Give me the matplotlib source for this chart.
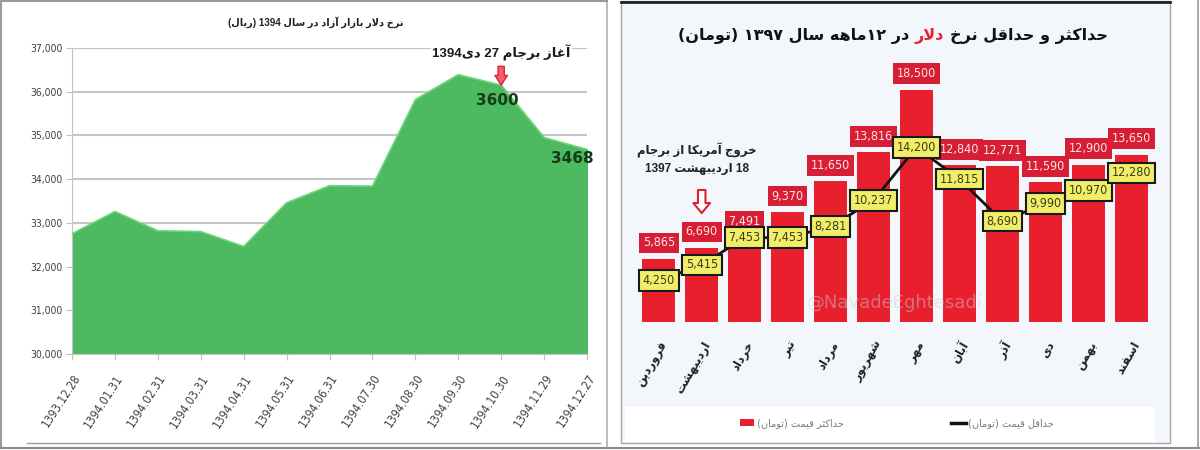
import re
import numpy as np
import matplotlib
matplotlib.use('Agg')
from matplotlib import pyplot as plt
from matplotlib import font_manager
from matplotlib.patches import Rectangle, Patch
from matplotlib.lines import Line2D
from matplotlib.offsetbox import TextArea, HPacker, AnnotationBbox

#Left chart data (rial)
dates_1394 = ['1393.12.28', '1394.01.31', '1394.02.31', '1394.03.31', '1394.04.31',
              '1394.05.31', '1394.06.31', '1394.07.30', '1394.08.30', '1394.09.30',
              '1394.10.30', '1394.11.29', '1394.12.27']
rate_1394 = [32750, 33260, 32820, 32800, 32460, 33460, 33850, 33840, 35820, 36390, 36150, 34950, 34680]

#Right chart data (toman)
months_1397 = ['فروردین', 'اردیبهشت', 'خرداد', 'تیر', 'مرداد', 'شهریور',
               'مهر', 'آبان', 'آذر', 'دی', 'بهمن', 'اسفند']
max_1397 = [5865, 6690, 7491, 9370, 11650, 13816, 18500, 12840, 12771, 11590, 12900, 13650]
min_1397 = [4250, 5415, 7453, 7453, 8281, 10237, 14200, 11815, 8690, 9990, 10970, 12280]

#Persian shaping (matplotlib has no text shaping, so use presentation forms)
dual = {'ب': 0xFE8F, 'ت': 0xFE95, 'ث': 0xFE99, 'ج': 0xFE9D, 'ح': 0xFEA1, 'خ': 0xFEA5,
        'س': 0xFEB1, 'ش': 0xFEB5, 'غ': 0xFECD, 'ف': 0xFED1, 'ق': 0xFED5, 'ک': 0xFB8E,
        'ل': 0xFEDD, 'م': 0xFEE1, 'ن': 0xFEE5, 'ه': 0xFEE9, 'ی': 0xFBFC}
right = {'ا': 0xFE8D, 'آ': 0xFE81, 'د': 0xFEA9, 'ذ': 0xFEAB, 'ر': 0xFEAD, 'ز': 0xFEAF, 'و': 0xFEED}
lam_alef = {'ا': 0xFEFB, 'آ': 0xFEF5}
mirror = str.maketrans('()', ')(')

def shape(s):
     out = []
     i = 0
     prev = False
     while i < len(s):
          c = s[i]
          nxt = s[i+1] if i + 1 < len(s) else ''
          if c == 'ل' and nxt in lam_alef:
               out.append(chr(lam_alef[nxt] + (1 if prev else 0)))
               prev = False
               i += 2
               continue
          joins_next = nxt in dual or nxt in right
          if c in dual:
               if prev and joins_next: k = 3
               elif prev: k = 1
               elif joins_next: k = 2
               else: k = 0
               out.append(chr(dual[c] + k))
               prev = True
          elif c in right:
               out.append(chr(right[c] + (1 if prev else 0)))
               prev = False
          else:
               out.append(c)
               prev = False
          i += 1
     return ''.join(out)

def rtl(s):
     parts = re.findall(r'[0-9\u06F0-\u06F9]+(?:[.,][0-9\u06F0-\u06F9]+)*|[^0-9\u06F0-\u06F9]+', shape(s))
     res = []
     for p in reversed(parts):
          if p[0].isdigit():
               res.append(p)
          else:
               res.append(p[::-1].translate(mirror))
     return ''.join(res)

#Basic Settings
cond = [f.fname for f in font_manager.fontManager.ttflist
        if ('Narrow' in f.name or 'Condensed' in f.fname) and 'Bold' not in f.fname
        and 'Oblique' not in f.fname and 'Italic' not in f.fname and 'Mono' not in f.fname]

def fp(size):
     if cond:
          return font_manager.FontProperties(fname=cond[0], size=size)
     return font_manager.FontProperties(family='Liberation Sans', size=size * 0.93)

plt.rcParams['font.family'] = ['DejaVu Sans']
mixed = ['Liberation Sans', 'DejaVu Sans']

W, H = 1200, 450
fig = plt.figure(figsize=(12, 4.5), dpi=100)

def fx(x):
     return x / W
def fy(y):
     return 1 - y / H

#Panel frames
fig.patches.append(Rectangle((fx(621), fy(443)), fx(1170 - 621), (442) / H, transform=fig.transFigure,
                             fc='#f3f6fa', ec='#a8a8a8', lw=1, zorder=-2))
fig.patches.append(Rectangle((fx(625), fy(442)), fx(1155 - 625), 35 / H, transform=fig.transFigure,
                             fc='white', ec='none', zorder=-1))
for xs, ys, col, lw in [([1, 1], [0, 448], '#9a9a9a', 1.5),
                         ([607, 607], [0, 448], '#b0b0b0', 1.2),
                         ([1, 607], [1, 1], '#9a9a9a', 1.5),
                         ([27, 600], [443, 443], '#9a9a9a', 1),
                         ([0, 1200], [448, 448], '#8a8a8a', 1.5),
                         ([1198, 1198], [0, 448], '#9a9a9a', 1.2),
                         ([621, 1170], [1.5, 1.5], '#222222', 2)]:
     fig.add_artist(Line2D([fx(v) for v in xs], [fy(v) for v in ys], color=col, lw=lw, zorder=-1))

#Left chart
ax1 = fig.add_axes([fx(72), fy(354), fx(587 - 72), (354 - 48) / H])
x1 = np.arange(len(rate_1394))
ax1.fill_between(x1, rate_1394, 30000, color='#4db960', zorder=2)
ax1.plot(x1, rate_1394, color='#6fd67d', lw=1.2, zorder=3)
ax1.set_xlim(0, len(rate_1394) - 1)
ax1.set_ylim(30000, 37000)
ax1.set_yticks(range(30000, 37001, 1000))
ax1.set_yticklabels([f'{v:,}' for v in range(30000, 37001, 1000)], color='#404040', fontproperties=fp(7.5))
ax1.set_xticks(x1)
ax1.set_xticklabels(dates_1394, rotation=57, ha='right', rotation_mode='anchor', color='#404040',
                    fontproperties=fp(8.5))
ax1.tick_params(axis='x', length=4, color='#bfbfbf', pad=9)
ax1.tick_params(axis='y', length=4, color='#bfbfbf', pad=3)
ax1.grid(axis='y', color='#c4c4c4', lw=1.5, zorder=1)
ax1.set_axisbelow(True)
for s in ['top', 'right']:
     ax1.spines[s].set_visible(False)
for s in ['left', 'bottom']:
     ax1.spines[s].set_color('#c4c4c4')

fig.text(fx(316), fy(22), rtl('نرخ دلار بازار آزاد در سال 1394 (ریال)'), ha='center', va='center',
         fontsize=7, fontweight='bold', color='#222222', family=mixed)
ax1.text(10.0, 36880, rtl('آغاز برجام 27 دی1394'), ha='center', va='center', fontsize=9.5,
         fontweight='bold', color='#1a1a1a', zorder=5, clip_on=False, family=mixed,
         bbox=dict(fc='white', ec='none', pad=1))
ax1.annotate('', xy=(10, rate_1394[10]), xytext=(10, 36580),
             arrowprops=dict(arrowstyle='simple,head_length=0.7,head_width=0.9,tail_width=0.45',
                             fc='#f25c6c', ec='#e0202f', lw=1, mutation_scale=10, shrinkA=0, shrinkB=0),
             zorder=6)
ax1.text(9.9, 35790, '3600', ha='center', va='center', fontsize=11, fontweight='bold', color='#123d17', zorder=5)
ax1.text(11.65, 34480, '3468', ha='center', va='center', fontsize=11, fontweight='bold', color='#123d17', zorder=5)

#Right chart
ax2 = fig.add_axes([fx(633), fy(322), fx(524), 262 / H])
x2 = np.arange(len(months_1397))
ax2.bar(x2, max_1397, width=0.77, color='#e8202e', zorder=2)
ax2.plot(x2, min_1397, color='#111111', lw=2, zorder=3)
ax2.set_xlim(-0.6, 11.6)
ax2.set_ylim(1160, 20712)
ax2.patch.set_visible(False)
for s in ax2.spines.values():
     s.set_visible(False)
ax2.set_yticks([])
ax2.set_xticks(x2)
ax2.set_xticklabels([rtl(m) for m in months_1397], rotation=60, ha='right', rotation_mode='anchor',
                    fontsize=8.5, fontweight='bold', color='#222222')
ax2.tick_params(axis='x', length=0, pad=12)

for i, v in enumerate(max_1397):
     ax2.annotate(f'{v:,}', xy=(i, v), xytext=(0, 11.5), textcoords='offset points', ha='center', va='center',
                  fontproperties=fp(9), color='#fbe6e8', zorder=4,
                  bbox=dict(boxstyle='square,pad=0.3', fc='#d81e34', ec='none'))
for i, v in enumerate(min_1397):
     ax2.text(i, v, f'{v:,}', ha='center', va='center', fontproperties=fp(9), color='#3b3a16', zorder=5,
              bbox=dict(boxstyle='square,pad=0.3', fc='#f1ee6a', ec='#1a1a1a', lw=1.5))

fig.text(fx(697), fy(159), rtl('خروج آمریکا از برجام') + '\n' + rtl('18 اردیبهشت 1397'), ha='center', va='center',
         fontsize=8.5, fontweight='bold', color='#222222', linespacing=1.6, family=mixed)
ax2.annotate('', xy=(1, 9290), xytext=(1, 11010),
             arrowprops=dict(arrowstyle='simple,head_length=0.6,head_width=1.0,tail_width=0.45',
                             fc='white', ec='#e0202f', lw=1.5, mutation_scale=12, shrinkA=0, shrinkB=0),
             zorder=6)
fig.text(fx(895), fy(303), '@NavadeEghtesadi', ha='center', va='center', fontsize=13,
         color='#c9cfdb', alpha=0.45, zorder=7)

#Right title with red word
tprops = dict(fontsize=11.5, fontweight='bold', color='#111111')
title_box = HPacker(children=[TextArea(rtl('در ۱۲ماهه سال ۱۳۹۷ (تومان)'), textprops=tprops),
                              TextArea(rtl('دلار'), textprops=dict(tprops, color='#e8202e')),
                              TextArea(rtl('حداکثر و حداقل نرخ'), textprops=tprops)],
                    align='baseline', pad=0, sep=4)
fig.add_artist(AnnotationBbox(title_box, (fx(893), fy(36)), xycoords='figure fraction',
                              frameon=False, box_alignment=(0.5, 0.5)))

#Legend
fig.legend(handles=[Patch(fc='#e8202e'), Line2D([], [], color='#111111', lw=2.5)],
           labels=[rtl('حداکثر قیمت (تومان)'), rtl('حداقل قیمت (تومان)')],
           ncol=2, loc='center', bbox_to_anchor=(fx(897), fy(423)), frameon=False, fontsize=7,
           labelcolor='#7a7a7a', columnspacing=11, handlelength=1.5, handletextpad=0.3)

plt.savefig('out.png', dpi=100)
